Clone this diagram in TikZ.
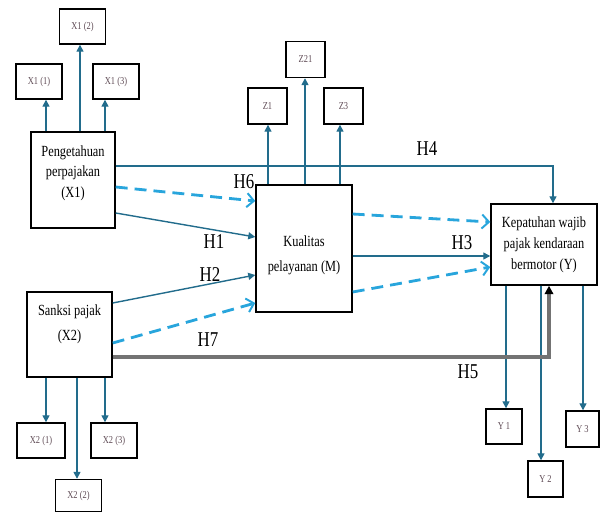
\documentclass[tikz,border=0pt]{standalone}
\usepackage{fontspec}
\setmainfont{Liberation Serif}[FakeStretch=0.8]
\usetikzlibrary{arrows.meta}
\definecolor{tealarr}{RGB}{34,108,140}
\definecolor{dashblue}{RGB}{40,165,220}
\definecolor{hfivegray}{RGB}{115,115,115}
\definecolor{smalltext}{RGB}{95,75,85}
\tikzset{
	bigbox/.style={draw, line width=1pt, align=center, inner sep=2pt},
	smallbox/.style={draw, line width=1pt, minimum width=1.15cm, minimum height=0.875cm, text=smalltext, font=\fontsize{7.5}{8}\selectfont},
	arr/.style={tealarr, line width=1pt, -{Triangle[length=5pt,width=5pt]}},
	darr/.style={dashblue, line width=2pt, dash pattern=on 8.5pt off 5pt, -{Straight Barb[length=5pt,width=10pt,line width=1.4pt]}},
	grayarr/.style={hfivegray, line width=2.2pt, -{Triangle[length=6pt,width=6pt,black]}},
	hlabel/.style={font=\fontsize{15}{15}\selectfont}
}
\begin{document}
\begin{tikzpicture}[x=0.025cm, y=-0.025cm]
	\useasboundingbox (0,0) rectangle (600,514);
	\node at (73,180) [bigbox, minimum width=2.1cm, minimum height=2.4cm, font=\fontsize{11}{14.5}\selectfont] (x1) {Pengetahuan\\perpajakan\\(X1)\rule[-12pt]{0pt}{1pt}};
	\node at (69.5,334.5) [bigbox, minimum width=2.125cm, minimum height=2.125cm, font=\fontsize{11}{18}\selectfont] (x2) {Sanksi pajak\\(X2)\rule[-17pt]{0pt}{1pt}};
	\node at (304,248.5) [bigbox, minimum width=2.4cm, minimum height=3.175cm, font=\fontsize{11}{18}\selectfont] (m) {\rule{0pt}{17pt}Kualitas\\pelayanan (M)};
	\node at (544,244.5) [bigbox, minimum width=2.65cm, minimum height=2.025cm, font=\fontsize{11}{15}\selectfont] (y) {Kepatuhan wajib\\pajak kendaraan\\bermotor (Y)};
	\node at (82.5,26.5) [smallbox] (x12) {X1 (2)};
	\node at (39,81.5) [smallbox] (x11) {X1 (1)};
	\node at (116,81.5) [smallbox] (x13) {X1 (3)};
	\node at (267.5,106) [smallbox, minimum width=0.975cm, minimum height=0.9cm] (z1) {Z1};
	\node at (305.5,59.5) [smallbox, minimum width=0.975cm, minimum height=0.9cm] (z21) {Z21};
	\node at (343.5,106) [smallbox, minimum width=0.975cm, minimum height=0.9cm] (z3) {Z3};
	\node at (41,440.5) [smallbox, minimum width=1.2cm] (x21) {X2 (1)};
	\node at (114,440.5) [smallbox] (x23) {X2 (3)};
	\node at (78.5,495.5) [smallbox, minimum height=0.8cm] (x22) {X2 (2)};
	\node at (504,426.5) [smallbox, minimum width=0.9cm] (y1) {Y 1};
	\node at (545.5,479) [smallbox, minimum width=0.875cm, minimum height=0.9cm] (y2) {Y 2};
	\node at (582.5,429) [smallbox, minimum width=0.825cm, minimum height=0.9cm] (y3) {Y 3};
	\draw [arr] (x1.north -| 46,0) -- (x11.south -| 46,0);
	\draw [arr] (x1.north -| 80,0) -- (x12.south -| 80,0);
	\draw [arr] (x1.north -| 105,0) -- (x13.south -| 105,0);
	\draw [arr] (m.north -| 268,0) -- (z1.south -| 268,0);
	\draw [arr] (m.north -| 305,0) -- (z21.south -| 305,0);
	\draw [arr] (m.north -| 340,0) -- (z3.south -| 340,0);
	\draw [arr] (x2.south -| 46,0) -- (x21.north -| 46,0);
	\draw [arr] (x2.south -| 77,0) -- (x22.north -| 77,0);
	\draw [arr] (x2.south -| 105,0) -- (x23.north -| 105,0);
	\draw [arr] (y.south -| 506,0) -- (y1.north -| 506,0);
	\draw [arr] (y.south -| 541,0) -- (y2.north -| 541,0);
	\draw [arr] (y.south -| 583,0) -- (y3.north -| 583,0);
	\draw [arr] (x1.east |- 0,166) -| (y.north -| 553,0);
	\draw [darr] (x1.east |- 0,187) -- (m.west |- 0,201);
	\draw [arr] (x1.east |- 0,213) -- (m.west |- 0,237);
	\draw [arr] (x2.east |- 0,303) -- (m.west |- 0,275);
	\draw [darr] (x2.east |- 0,343) -- (m.west |- 0,303);
	\draw [darr] (m.east |- 0,214) -- (y.west |- 0,222);
	\draw [arr] (m.east |- 0,256) -- (y.west |- 0,256);
	\draw [darr] (m.east |- 0,292) -- (y.west |- 0,267);
	\draw [grayarr] (x2.east |- 0,357) -| (y.south -| 549,0);
	\node at (244,182) [hlabel] (h6) {H6};
	\node at (427,149) [hlabel] (h4) {H4};
	\node at (214,242) [hlabel] (h1) {H1};
	\node at (210,275) [hlabel] (h2) {H2};
	\node at (462,243) [hlabel] (h3) {H3};
	\node at (208,340) [hlabel] (h7) {H7};
	\node at (468,372) [hlabel] (h5) {H5};
\end{tikzpicture}
\end{document}
